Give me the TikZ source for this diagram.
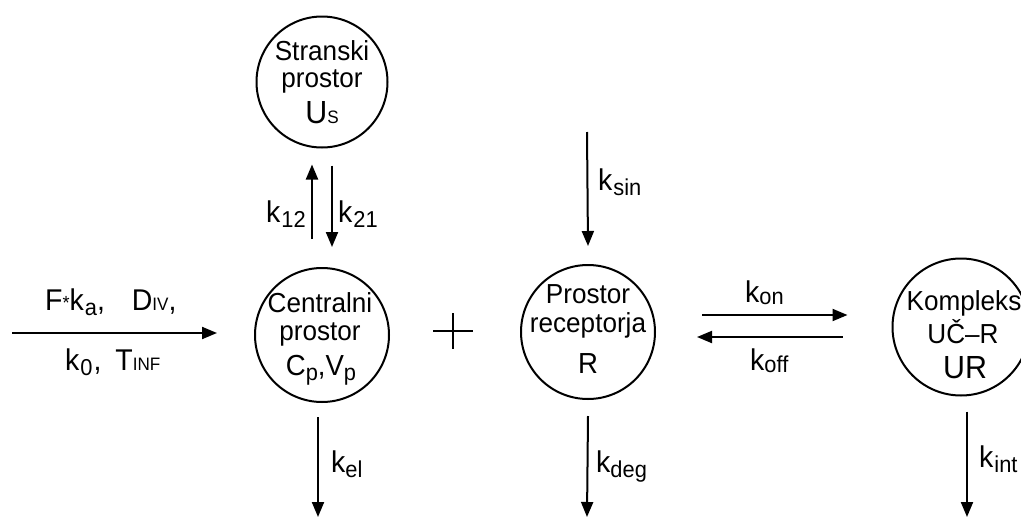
\documentclass[tikz,border=0pt]{standalone}
\usepackage{fontspec}
\setmainfont{Liberation Sans}[FakeStretch=0.95]
\usetikzlibrary{arrows.meta}
\newcommand{\lo}[1]{\raisebox{-5pt}{\fontsize{23}{23}\selectfont #1}}
\newcommand{\lon}[1]{\raisebox{-2pt}{\fontsize{23}{23}\selectfont #1}}
\newcommand{\bs}[1]{{\fontsize{18}{18}\selectfont #1}}
\begin{document}
\begin{tikzpicture}[x=1pt,y=-1pt,
  comp/.style={circle,draw,line width=2pt,inner sep=0pt},
  arr/.style={line width=2pt,-{Triangle[length=15pt,width=12pt]}},
  ctext/.style={inner sep=0pt,anchor=base,font=\fontsize{27.5}{27.5}\selectfont},
  big/.style={inner sep=0pt,anchor=base,font=\fontsize{31}{31}\selectfont},
  lbl/.style={inner sep=0pt,anchor=base west,font=\fontsize{30}{30}\selectfont}]
\useasboundingbox (0,0) rectangle (1021,517);
% compartments
\node[comp,minimum size=131pt] (us) at (322,82) {};
\node[comp,minimum size=134pt] (cp) at (322,335) {};
\node[comp,minimum size=134pt] (r) at (588,332) {};
\node[comp,minimum size=137pt] (ur) at (961,327) {};
% texts in compartments
\node[ctext] (us1) at (322,60) {Stranski};
\node[ctext] (us2) at (322,87) {prostor};
\node[big,font=\fontsize{32}{32}\selectfont] (us3) at (322,123) {U\bs{S}};
\node[ctext] (cp1) at (320,312) {Centralni};
\node[ctext] (cp2) at (320,340) {prostor};
\node[big,font=\fontsize{29}{29}\selectfont] (cp3) at (321,375) {C\lo{p},V\lo{p}};
\node[ctext] (r1) at (588,303) {Prostor};
\node[ctext] (r2) at (588,332) {receptorja};
\node[big,font=\fontsize{29}{29}\selectfont] (r3) at (588,373) {R};
\node[ctext] (ur1) at (964,310) {Kompleks};
\node[ctext] (ur2) at (963,343) {UČ–R};
\node[big,font=\fontsize{32}{32}\selectfont] (ur3) at (965,378) {UR};
% plus sign
\draw[line width=2pt] (433,331) -- (473,331);
\draw[line width=2pt] (453,313) -- (453,349);
% free arrow ends
\coordinate (inS) at (12,333);
\coordinate (inE) at (217,333);
\coordinate (sinS) at (587,132);
\coordinate (elE) at (318,517);
\coordinate (degE) at (587,517);
\coordinate (intE) at (967,517);
% connectors
\draw[arr] (inS) -- (inE);
\draw[arr] ([xshift=-10pt,yshift=28pt]cp.north) -- ([xshift=-10pt,yshift=-16pt]us.south);
\draw[arr] ([xshift=10pt,yshift=-17pt]us.south) -- ([xshift=10pt,yshift=20pt]cp.north);
\draw[arr] ([xshift=-4pt,yshift=-14pt]cp.south) -- (elE);
\draw[arr] (sinS) -- ([yshift=18pt]r.north);
\draw[arr] ([yshift=-16pt]r.south) -- (degE);
\draw[arr] ([xshift=46pt,yshift=17pt]r.east) -- ([xshift=-44pt,yshift=12pt]ur.west);
\draw[arr] ([xshift=-49pt,yshift=-10pt]ur.west) -- ([xshift=41pt,yshift=-5pt]r.east);
\draw[arr] ([xshift=6pt,yshift=-15pt]ur.south) -- (intE);
% labels
\node[lbl] (lin1) at (45,310) {F\raisebox{1pt}{\fontsize{19}{19}\selectfont*}k\hspace{1pt}\lo{a}, \hspace{19pt}D\bs{IV},};
\node[lbl] (lin2) at (65,370) {k\hspace{1pt}\lo{0}\hspace{1pt}, \hspace{6pt}T\bs{INF}};
\node[lbl,anchor=base east] (l12) at (306,222) {k\hspace{1pt}\lo{12}};
\node[lbl] (l21) at (338,222) {k\hspace{1pt}\lo{21}};
\node[lbl] (lel) at (331,472) {k\lo{el}};
\node[lbl] (lsin) at (598,190) {k\hspace{1pt}\lo{sin}};
\node[lbl] (ldeg) at (596,472) {k\lo{deg}};
\node[lbl] (lon) at (745,302) {k\lon{on}};
\node[lbl] (loff) at (750,370) {k\lon{off}};
\node[lbl] (lint) at (979,467) {k\hspace{1pt}\lo{int}};
\end{tikzpicture}
\end{document}
